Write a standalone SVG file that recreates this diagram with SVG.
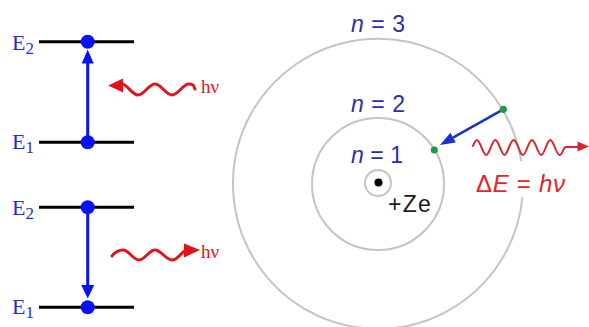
<svg xmlns="http://www.w3.org/2000/svg" width="589" height="327" viewBox="0 0 589 327">
<style>
.lvl{stroke:#000;stroke-width:3;fill:none}
.bdot{fill:#0a12f0}
.barr{stroke:#0a12f0;stroke-width:3;fill:none}
.bhead{fill:#0a12f0}
.elab{font-family:"Liberation Serif",serif;font-size:22px;fill:#2a2ad0}
.hv{font-family:"Liberation Serif",serif;font-size:19px;fill:#e0141c}
.wave{stroke:#e0141c;stroke-width:3;fill:none;stroke-linecap:round}
.rhead{fill:#e0141c}
.orbit{stroke:#c4c4c4;stroke-width:2;fill:none}
.nlab{font-family:"Liberation Sans",Arial,sans-serif;font-size:23px;fill:#2b2bb5}
.gdot{fill:#1f9a4a}
.rwave{stroke:#d8262c;stroke-width:2;fill:none;stroke-linecap:round}
.rlab{font-family:"Liberation Sans",Arial,sans-serif;font-size:24px;fill:#e0262c}
</style>

<g id="absorption">
  <line class="lvl" x1="39" y1="41.7" x2="134" y2="41.7"/>
  <line class="lvl" x1="39" y1="142.3" x2="134" y2="142.3"/>
  <text class="elab" x="12" y="50">E<tspan font-size="17" dy="4">2</tspan></text>
  <text class="elab" x="12" y="149">E<tspan font-size="17" dy="4">1</tspan></text>
  <circle class="bdot" cx="87.7" cy="41.7" r="7"/>
  <circle class="bdot" cx="87.7" cy="142.3" r="7"/>
</g>

<g id="emission">
  <line class="lvl" x1="39" y1="207.3" x2="134" y2="207.3"/>
  <line class="lvl" x1="39" y1="307.3" x2="134" y2="307.3"/>
  <text class="elab" x="12" y="215">E<tspan font-size="17" dy="4">2</tspan></text>
  <text class="elab" x="12" y="314">E<tspan font-size="17" dy="4">1</tspan></text>
  <circle class="bdot" cx="87.7" cy="207.3" r="7"/>
  <circle class="bdot" cx="87.7" cy="307.3" r="7"/>
</g>

<g id="photon-in">
  <path class="wave" d="M122 84 C127 84 132 95 138 95 S149 84 155 84 S166 95 172 95 S183 84 189 84 S193 86 195 89"/>
  <polygon class="rhead" points="108,85.5 123,78.5 123,92.5"/>
  <text class="hv" x="201" y="93.3">hν</text>
</g>

<g id="photon-out">
  <path class="wave" d="M112 256 C115 252 119 250 123 250 C129 250 133 260 139 260 S149 250 155 250 S166 260 172 260 S181 252 186 250.5"/>
  <polygon class="rhead" points="200,250 184,243.5 184,257.5"/>
  <text class="hv" x="201" y="258">hν</text>
</g>

<g id="atom">
  <path class="orbit" d="M522.4 197 A145 145 0 1 1 521.2 161"/>
  <circle class="orbit" cx="378" cy="184" r="66"/>
  <circle class="orbit" cx="378" cy="183" r="13"/>
  <circle cx="378.5" cy="182.5" r="4" fill="#000"/>
  <text class="nlab" x="351" y="31.7" textLength="54" lengthAdjust="spacing"><tspan font-style="italic">n</tspan> = 3</text>
  <text class="nlab" x="351" y="112.3" textLength="54" lengthAdjust="spacing"><tspan font-style="italic">n</tspan> = 2</text>
  <text class="nlab" x="351" y="163" textLength="52" lengthAdjust="spacing"><tspan font-style="italic">n</tspan> = 1</text>
  <text x="388" y="211.7" font-family="Liberation Sans,Arial,sans-serif" font-size="23" fill="#1a1a1a" textLength="42.7" lengthAdjust="spacing">+Ze</text>
</g>

<g id="connectors">
  <line class="barr" x1="87.7" y1="142.3" x2="87.7" y2="62"/>
  <polygon class="bhead" points="87.7,49.5 81.7,63.5 93.7,63.5"/>
  <line class="barr" x1="87.7" y1="207.3" x2="87.7" y2="287"/>
  <polygon class="bhead" points="87.7,298.5 81.2,285 94.2,285"/>
  <line x1="503.3" y1="109.3" x2="453" y2="137.6" stroke="#1a32c8" stroke-width="2.5"/>
  <polygon points="440,145 455.8,142.4 450.4,132.8" fill="#1a32c8"/>
</g>

<g id="electrons">
  <circle class="gdot" cx="503.3" cy="109.3" r="3.6"/>
  <circle class="gdot" cx="434.3" cy="150" r="3.6"/>
</g>

<g id="photon-emitted">
  <path class="rwave" d="M473 146 C474.5 142 475.5 140 477 140 C480 140 483 155 486.2 155 S492 140 495.3 140 S501.5 155 504.5 155 S510 140 513.7 140 S519.5 155 522.8 155 S528.7 140 532 140 S537.9 155 541.2 155 S547 140 550.3 140 S556.2 155 559.5 155 S563 147 566 147 L579 147"/>
  <polygon points="589,146.5 577.5,141.5 577.5,151.5" fill="#d8262c"/>
  <text class="rlab" x="476" y="192" textLength="89" lengthAdjust="spacing">Δ<tspan font-style="italic">E</tspan> = <tspan font-style="italic">hν</tspan></text>
</g>
</svg>
